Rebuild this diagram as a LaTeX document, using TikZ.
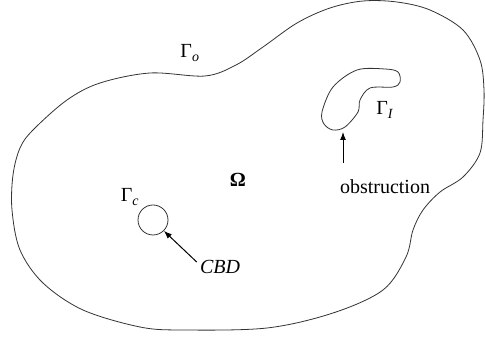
\documentclass[tikz,border=0pt]{standalone}
\usepackage{fontspec}
\setmainfont{Liberation Serif}
\usetikzlibrary{arrows.meta}

\tikzset{
  lbl/.style={inner sep=0pt, font=\fontsize{20}{24}\selectfont},
  bdry/.style={draw=black!80, line width=0.8pt},
  pointer/.style={black, line width=1pt, -{Latex[length=8pt,width=6pt]}}
}

\begin{document}
\begin{tikzpicture}[x=1pt,y=1pt]
\useasboundingbox (0,0) rectangle (485,337);
% outer boundary
\draw[bdry] plot[smooth cycle, tension=0.55] coordinates {
  (12,127) (13,162) (20,189) (33,207) (67,237) (100,254) (150,264) (205,261)
  (236,272) (263,290) (297,314) (330,329) (363,336) (397,335) (430,327) (463,307)
  (480,277) (484,247) (483,217) (480,184) (463,160) (440,145) (423,127) (413,107)
  (406,80) (383,47) (333,24) (267,9) (183,7) (140,10) (83,27) (43,54) (20,87)};
% obstruction
\draw[bdry] plot[smooth cycle, tension=0.55] coordinates {
  (324,213) (322,225) (333,250) (357,267) (385,268) (398,265) (400,255) (393,250)
  (370,249) (360,237) (358,225) (345,210) (333,207)};
\node[bdry, circle, minimum size=30pt, inner sep=0pt] (cbdc) at (153,117) {};

\node[lbl] (gamo) at (190,284) {Γ\textsubscript{\textit{o}}};
\node[lbl] (omega) at (238,157) {\textbf{Ω}};
\node[lbl] (gamc) at (130,140) {Γ\textsubscript{\textit{c}}};
\node[lbl] (gami) at (385,227) {Γ\textsubscript{\textit{I}}};
\node[lbl] (obst) at (385,150) {obstruction};
\node[lbl] (cbd) at (220,70) {\textit{CBD}};

\coordinate (obtip) at (343,205);
\draw[pointer] (obtip |- obst.north) ++(0,17) coordinate (obtail) (obtail) -- (obtip);
\draw[pointer] (cbd.north west) ++(-3,-2) -- (cbdc.-45);
\end{tikzpicture}
\end{document}
